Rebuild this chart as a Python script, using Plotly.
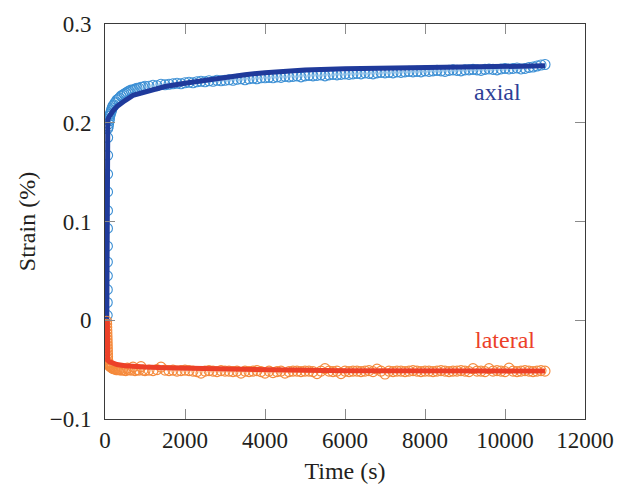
import plotly.graph_objects as go

# Loading ramp samples (time in s, strain in %)
time_ramp_axial = [55, 56, 57, 58, 59, 60, 61, 62, 63, 64, 65, 66, 67]
axial_ramp = [0.005, 0.018, 0.031, 0.045, 0.059, 0.075, 0.093, 0.111,
              0.130, 0.148, 0.167, 0.185, 0.194]

time_ramp_lateral = [40, 42, 44, 46, 48, 50, 52, 54, 56, 58, 60, 62, 64, 66]
lateral_ramp = [-0.001, -0.004, -0.007, -0.010, -0.013, -0.016, -0.019,
                -0.022, -0.025, -0.028, -0.031, -0.034, -0.037, -0.040]

# Creep-phase sampling times (s)
time_creep = [
    80, 90, 100, 110, 120, 135, 150, 165, 180, 200,
    225, 250, 275, 300, 330, 360, 400, 440, 480, 520,
    560, 600, 650, 700, 750, 800, 850, 900, 950, 1000,
    1100, 1200, 1300, 1400, 1500, 1600, 1700, 1800, 1900, 2000,
    2100, 2200, 2300, 2400, 2500, 2600, 2700, 2800, 2900, 3000,
    3100, 3200, 3300, 3400, 3500, 3600, 3700, 3800, 3900, 4000,
    4100, 4200, 4300, 4400, 4500, 4600, 4700, 4800, 4900, 5000,
    5100, 5200, 5300, 5400, 5500, 5600, 5700, 5800, 5900, 6000,
    6100, 6200, 6300, 6400, 6500, 6600, 6700, 6800, 6900, 7000,
    7100, 7200, 7300, 7400, 7500, 7600, 7700, 7800, 7900, 8000,
    8100, 8200, 8300, 8400, 8500, 8600, 8700, 8800, 8900, 9000,
    9100, 9200, 9300, 9400, 9500, 9600, 9700, 9800, 9900, 10000,
    10100, 10200, 10300, 10400, 10500, 10600, 10700, 10800, 10900, 11000,
]

axial_creep = [
    0.196, 0.199, 0.202, 0.204, 0.207, 0.209, 0.211, 0.213, 0.215, 0.217,
    0.218, 0.220, 0.221, 0.223, 0.224, 0.225, 0.227, 0.228, 0.229, 0.230,
    0.231, 0.232, 0.233, 0.233, 0.234, 0.235, 0.235, 0.236, 0.236, 0.237,
    0.237, 0.238, 0.2375, 0.239, 0.2385, 0.239, 0.2395, 0.240, 0.2395, 0.2405,
    0.241, 0.2405, 0.2415, 0.242, 0.2415, 0.2425, 0.242, 0.243, 0.2425, 0.243,
    0.2435, 0.243, 0.244, 0.2445, 0.2435, 0.2445, 0.245, 0.2445, 0.2455, 0.2455,
    0.246, 0.2455, 0.2465, 0.246, 0.247, 0.2465, 0.247, 0.2475, 0.2465, 0.2475,
    0.248, 0.2475, 0.248, 0.2485, 0.2475, 0.2485, 0.249, 0.2485, 0.249, 0.2495,
    0.249, 0.2495, 0.250, 0.2495, 0.2505, 0.250, 0.2495, 0.2505, 0.251, 0.2505,
    0.251, 0.2505, 0.2515, 0.251, 0.2515, 0.252, 0.2515, 0.252, 0.2515, 0.2525,
    0.252, 0.2525, 0.253, 0.2525, 0.252, 0.253, 0.2535, 0.253, 0.2525, 0.2535,
    0.2535, 0.254, 0.2535, 0.253, 0.254, 0.2545, 0.254, 0.2535, 0.2545, 0.255,
    0.2545, 0.255, 0.2555, 0.2545, 0.255, 0.256, 0.2565, 0.2575, 0.2585, 0.259,
]

lateral_creep = [
    -0.043, -0.044, -0.045, -0.046, -0.046, -0.047, -0.047, -0.048, -0.048, -0.049,
    -0.049, -0.049, -0.050, -0.050, -0.050, -0.050, -0.0505, -0.050, -0.0505, -0.051,
    -0.0485, -0.050, -0.0505, -0.0475, -0.051, -0.050, -0.0505, -0.047, -0.0505, -0.051,
    -0.0505, -0.051, -0.050, -0.0475, -0.0505, -0.051, -0.0505, -0.0515, -0.051, -0.0505,
    -0.051, -0.0515, -0.052, -0.0535, -0.0515, -0.051, -0.0515, -0.052, -0.051, -0.0515,
    -0.0515, -0.052, -0.0515, -0.0535, -0.0515, -0.052, -0.0515, -0.051, -0.052, -0.0535,
    -0.0515, -0.053, -0.052, -0.0515, -0.0535, -0.052, -0.0515, -0.0515, -0.052, -0.0515,
    -0.0515, -0.052, -0.054, -0.0515, -0.049, -0.0515, -0.052, -0.0515, -0.054, -0.0515,
    -0.052, -0.0515, -0.0515, -0.052, -0.0515, -0.051, -0.052, -0.0495, -0.0515, -0.0545,
    -0.0515, -0.052, -0.0515, -0.0515, -0.052, -0.0515, -0.051, -0.0515, -0.052, -0.0515,
    -0.0515, -0.052, -0.0515, -0.051, -0.0515, -0.052, -0.0515, -0.0515, -0.051, -0.0515,
    -0.052, -0.049, -0.0515, -0.0515, -0.052, -0.049, -0.0515, -0.051, -0.0515, -0.052,
    -0.0485, -0.0515, -0.052, -0.0515, -0.051, -0.0515, -0.052, -0.0515, -0.051, -0.0515,
]

# Fitted creep curves
fit_time_axial = [45, 50, 70, 100, 150, 200, 300, 400, 500, 700, 1000, 1500,
                  2000, 2500, 3000, 3500, 4000, 5000, 6000, 7000, 8000, 9000,
                  10000, 11000]
fit_axial = [0.0, 0.198, 0.203, 0.206, 0.2095, 0.212, 0.2165, 0.220, 0.2225,
             0.2277, 0.2315, 0.2367, 0.240, 0.2432, 0.246, 0.2487, 0.2507,
             0.2535, 0.2547, 0.2555, 0.2561, 0.2566, 0.2571, 0.2576]

fit_time_lateral = [60, 65, 100, 150, 200, 300, 500, 700, 1000, 1500, 2000,
                    3000, 4000, 5000, 6000, 7000, 8000, 9000, 10000, 11000]
fit_lateral = [0.0, -0.0405, -0.0418, -0.0428, -0.0437, -0.0448, -0.0460,
               -0.0468, -0.0474, -0.0481, -0.0486, -0.0494, -0.0501, -0.0507,
               -0.0511, -0.0513, -0.0514, -0.0514, -0.0514, -0.0514]

AXIAL_MARK = "#3b8fd4"
AXIAL_LINE = "#1f3a9b"
LATERAL_MARK = "#f58a3c"
LATERAL_LINE = "#ec4028"
FONT = "Liberation Serif"

fig = go.Figure()

fig.add_trace(go.Scatter(
    x=time_ramp_axial + time_creep, y=axial_ramp + axial_creep,
    mode="markers",
    marker=dict(symbol="circle-open", size=10, color=AXIAL_MARK,
                line=dict(width=1.1, color=AXIAL_MARK)),
    showlegend=False,
))
fig.add_trace(go.Scatter(
    x=fit_time_axial, y=fit_axial, mode="lines",
    line=dict(color=AXIAL_LINE, width=5), showlegend=False,
))
fig.add_trace(go.Scatter(
    x=time_ramp_lateral + time_creep, y=lateral_ramp + lateral_creep,
    mode="markers",
    marker=dict(symbol="circle-open", size=10, color=LATERAL_MARK,
                line=dict(width=1.1, color=LATERAL_MARK)),
    showlegend=False,
))
fig.add_trace(go.Scatter(
    x=fit_time_lateral, y=fit_lateral, mode="lines",
    line=dict(color=LATERAL_LINE, width=5), showlegend=False,
))

fig.add_annotation(x=9816, y=0.2315, text="axial", showarrow=False,
                   font=dict(family=FONT, size=24, color="#2e3f96"))
fig.add_annotation(x=10000, y=-0.0195, text="lateral", showarrow=False,
                   font=dict(family=FONT, size=24, color=LATERAL_LINE))

axis_common = dict(
    showgrid=False, zeroline=False, showline=True, linecolor="#3a3a3a",
    linewidth=1, mirror="ticks", ticks="inside", ticklen=10,
    tickcolor="#8a8a8a", tickwidth=1,
    tickfont=dict(family=FONT, size=23, color="#231f20"),
)

fig.update_xaxes(
    range=[0, 12000], tickvals=[0, 2000, 4000, 6000, 8000, 10000, 12000],
    ticktext=["0", "2000", "4000", "6000", "8000", "10000", "12000"],
    title=dict(text="Time (s)", font=dict(family=FONT, size=24, color="#231f20"),
               standoff=10),
    **axis_common,
)
fig.update_yaxes(
    range=[-0.1, 0.3], tickvals=[-0.1, 0, 0.1, 0.2, 0.3],
    ticktext=["\u22120.1", "0", "0.1", "0.2", "0.3"],
    ticklabelstandoff=8,
    title=dict(text="Strain (%)", font=dict(family=FONT, size=24, color="#231f20"),
               standoff=7),
    **axis_common,
)

fig.update_layout(
    width=626, height=491,
    margin=dict(l=105, r=32, t=19, b=67),
    paper_bgcolor="white", plot_bgcolor="white",
)

fig.write_html("out.html")
